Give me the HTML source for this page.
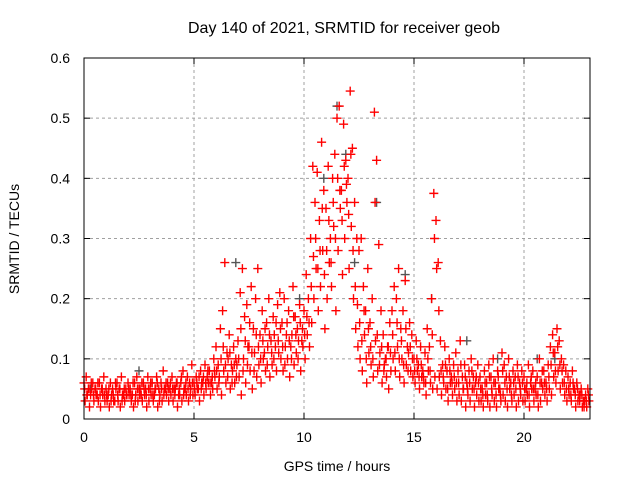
<!DOCTYPE html>
<html><head><meta charset="utf-8"><style>
html,body{margin:0;padding:0;background:#fff;}
svg{display:block;font-family:"Liberation Sans",sans-serif;}
</style></head><body>
<svg id="chart" width="640" height="480">
<text x="344" y="33" text-anchor="middle" font-size="16" textLength="312" lengthAdjust="spacingAndGlyphs">Day 140 of 2021, SRMTID for receiver geob</text>
<text transform="translate(19,239) rotate(-90)" text-anchor="middle" font-size="14">SRMTID / TECUs</text>
<text x="337" y="471" text-anchor="middle" font-size="14">GPS time / hours</text>
<g id="grid"></g><g id="ticks"></g><g id="marks"></g>
<rect x="84" y="58" width="506" height="361" fill="none" stroke="#000" stroke-width="1"/>
</svg>
<script>
const hours=[0,0.1,0.2,0.3,0.4,0.5,0.6,0.7,0.8,0.9,1,1.1,1.2,1.3,1.4,1.5,1.6,1.7,1.8,1.9,2,2.1,2.2,2.3,2.4,2.5,2.6,2.7,2.8,2.9,3,3.1,3.2,3.3,3.4,3.5,3.6,3.7,3.8,3.9,4,4.1,4.2,4.3,4.4,4.5,4.6,4.7,4.8,4.9,5,5.1,5.2,5.3,5.4,5.5,5.6,5.7,5.8,5.9,6,6.1,6.2,6.3,6.4,6.5,6.6,6.7,6.8,6.9,7,7.1,7.2,7.3,7.4,7.5,7.6,7.7,7.8,7.9,8,8.1,8.2,8.3,8.4,8.5,8.6,8.7,8.8,8.9,9,9.1,9.2,9.3,9.4,9.5,9.6,9.7,9.8,9.9,10,10.1,10.2,10.3,10.4,10.5,10.6,10.7,10.8,10.9,11,11.1,11.2,11.3,11.4,11.5,11.6,11.7,11.8,11.9,12,12.1,12.2,12.3,12.4,12.5,12.6,12.7,12.8,12.9,13,13.1,13.2,13.3,13.4,13.5,13.6,13.7,13.8,13.9,14,14.1,14.2,14.3,14.4,14.5,14.6,14.7,14.8,14.9,15,15.1,15.2,15.3,15.4,15.5,15.6,15.7,15.8,15.9,16,16.1,16.2,16.3,16.4,16.5,16.6,16.7,16.8,16.9,17,17.1,17.2,17.3,17.4,17.5,17.6,17.7,17.8,17.9,18,18.1,18.2,18.3,18.4,18.5,18.6,18.7,18.8,18.9,19,19.1,19.2,19.3,19.4,19.5,19.6,19.7,19.8,19.9,20,20.1,20.2,20.3,20.4,20.5,20.6,20.7,20.8,20.9,21,21.1,21.2,21.3,21.4,21.5,21.6,21.7,21.8,21.9,22,22.1,22.2,22.3,22.4,22.5,22.6,22.7,22.8,22.9];
const seriesA=[.06,.07,.05,.04,.06,.05,.04,.06,.05,.07,
.05,.04,.06,.05,.03,.06,.05,.07,.04,.05,
.06,.05,.04,.06,.07,.05,.04,.06,.05,.07,
.05,.06,.04,.07,.05,.06,.08,.05,.06,.05,
.07,.05,.06,.04,.06,.08,.05,.07,.06,.09,
.06,.07,.05,.08,.06,.09,.07,.08,.06,.10,
.12,.09,.15,.18,.26,.11,.14,.09,.12,.10,
.13,.21,.25,.17,.19,.12,.22,.15,.20,.25,
.14,.18,.11,.16,.20,.13,.17,.12,.19,.21,
.16,.20,.14,.18,.12,.22,.17,.15,.19,.13,
.18,.24,.20,.30,.42,.36,.41,.33,.46,.38,
.35,.42,.30,.40,.44,.50,.52,.38,.49,.43,
.40,.545,.45,.36,.30,.28,.30,.22,.18,.25,
.16,.20,.51,.43,.29,.18,.14,.10,.12,.16,
.18,.22,.20,.25,.15,.18,.23,.12,.16,.14,
.10,.13,.09,.12,.08,.11,.15,.12,.20,.375,
.33,.26,.13,.09,.12,.08,.10,.07,.09,.11,
.08,.13,.07,.09,.06,.08,.10,.07,.06,.09,
.07,.05,.08,.06,.09,.07,.10,.06,.08,.05,
.11,.09,.07,.10,.06,.08,.07,.09,.06,.08,
.07,.05,.09,.06,.08,.05,.07,.10,.06,.08,
.06,.09,.12,.14,.11,.15,.13,.10,.09,.08,
.07,.06,.08,.05,.06,.04,.05,.03,.04,.05];
const seriesB=[.03,.04,.02,.05,.03,.04,.03,.02,.04,.03,
.03,.02,.04,.03,.05,.03,.02,.04,.03,.04,
.04,.03,.02,.04,.03,.05,.03,.04,.02,.03,
.04,.03,.05,.02,.04,.03,.05,.04,.03,.04,
.03,.05,.02,.04,.03,.05,.04,.03,.05,.04,
.04,.05,.03,.06,.04,.05,.06,.04,.05,.07,
.05,.07,.04,.08,.06,.10,.05,.08,.06,.09,
.07,.04,.10,.06,.12,.08,.05,.11,.07,.09,
.06,.10,.08,.12,.07,.09,.14,.08,.11,.10,
.08,.12,.10,.07,.14,.09,.11,.13,.08,.12,
.10,.14,.12,.16,.20,.25,.18,.22,.28,.15,
.20,.26,.22,.32,.18,.28,.35,.24,.30,.36,
.25,.32,.20,.15,.12,.10,.08,.14,.06,.11,
.09,.07,.13,.08,.11,.06,.09,.07,.05,.08,
.10,.08,.12,.07,.10,.06,.09,.11,.08,.07,
.06,.08,.05,.07,.06,.04,.08,.06,.05,.07,
.05,.07,.04,.06,.05,.03,.06,.04,.05,.03,
.04,.03,.05,.02,.04,.03,.05,.02,.04,.03,
.03,.02,.04,.03,.02,.04,.03,.02,.05,.03,
.04,.03,.02,.05,.03,.04,.02,.03,.04,.03,
.03,.04,.02,.05,.03,.04,.02,.03,.05,.04,
.03,.05,.04,.07,.06,.08,.05,.06,.04,.03,
.04,.03,.05,.02,.03,.04,.02,.03,.02,.03];
const seriesC=[.05,.04,.05,.06,.04,.05,.06,.04,.05,.04,
.04,.05,.03,.04,.06,.04,.05,.03,.05,.04,
.05,.04,.06,.03,.05,.04,.06,.05,.04,.05,
.06,.04,.05,.06,.03,.05,.04,.06,.05,.06,
.05,.04,.06,.05,.07,.04,.06,.05,.04,.06,
.05,.06,.07,.05,.07,.06,.08,.06,.07,.08,
.08,.06,.10,.12,.09,.07,.11,.06,.09,.07,
.10,.15,.08,.13,.09,.16,.11,.08,.14,.12,
.10,.13,.15,.09,.14,.11,.10,.16,.13,.15,
.12,.09,.16,.13,.10,.17,.14,.10,.16,.15,
.14,.17,.16,.22,.27,.30,.25,.28,.35,.24,
.28,.33,.26,.36,.30,.40,.38,.33,.42,.39,
.34,.44,.28,.22,.19,.16,.13,.18,.10,.15,
.12,.10,.36,.14,.09,.12,.08,.10,.12,.11,
.14,.11,.16,.10,.13,.09,.15,.08,.12,.10,
.08,.10,.07,.09,.07,.06,.10,.08,.14,.30,
.25,.18,.08,.07,.09,.05,.08,.06,.07,.06,
.06,.09,.05,.07,.05,.06,.08,.05,.07,.06,
.05,.04,.06,.04,.07,.05,.06,.04,.07,.04,
.08,.06,.05,.07,.04,.06,.05,.07,.05,.06,
.05,.06,.04,.07,.05,.06,.04,.06,.08,.06,
.05,.07,.09,.11,.08,.12,.09,.08,.06,.05,
.05,.04,.06,.04,.05,.03,.04,.02,.03,.04];
const greyHours=[0.3,2.5,6.9,9.8,10.9,11.5,11.9,12.3,13.3,14.6,15.8,17.4,18.8,20.6,21.4];
const greyValues=[0.05,0.08,0.26,0.2,0.4,0.52,0.44,0.26,0.36,0.24,0.2,0.13,0.1,0.1,0.1];
const xTicks=[0,5,10,15,20];
const yTicks=[0,0.1,0.2,0.3,0.4,0.5,0.6];
const yTickLabels=["0","0.1","0.2","0.3","0.4","0.5","0.6"];

const X0=84,X1=590,Y0=419,Y1=58,XMAX=23,YMAX=0.6;
const xs=v=>X0+(X1-X0)*v/XMAX;
const ys=v=>Y0-(Y0-Y1)*v/YMAX;
const NS='http://www.w3.org/2000/svg';
const grid=document.getElementById('grid'),ticks=document.getElementById('ticks'),marks=document.getElementById('marks');
function mk(tag,parent,attrs){const e=document.createElementNS(NS,tag);for(const k in attrs)e.setAttribute(k,attrs[k]);parent.appendChild(e);return e;}
xTicks.forEach(t=>{
  const x=xs(t);
  if(t>0){const g=mk('line',grid,{x1:x,x2:x,y1:Y1,y2:Y0,stroke:'#a0a0a0','stroke-dasharray':'3,3','stroke-width':1});
  
  }
  const tk=mk('line',ticks,{x1:x,x2:x,y1:Y0,y2:Y0-6,stroke:'#000'});
  
  
  const tk2=mk('line',ticks,{x1:x,x2:x,y1:Y1,y2:Y1+6,stroke:'#000'});
  
  
  const l=mk('text',ticks,{x:x,y:Y0+23,'text-anchor':'middle','font-size':14});
  l.textContent=String(t);
  
  
});
yTicks.forEach((t,i)=>{
  const y=ys(t);
  if(t>0&&t<YMAX){const g=mk('line',grid,{x1:X0,x2:X1,y1:y,y2:y,stroke:'#a0a0a0','stroke-dasharray':'3,3','stroke-width':1});
  
  }
  const tk=mk('line',ticks,{x1:X0,x2:X0+6,y1:y,y2:y,stroke:'#000'});
  
  
  const tk2=mk('line',ticks,{x1:X1,x2:X1-6,y1:y,y2:y,stroke:'#000'});
  
  
  const l=mk('text',ticks,{x:X0-14,y:y+5,'text-anchor':'end','font-size':14});
  l.textContent=yTickLabels[i];
  
  
});
function plus(h,v,color,name){
  const x=xs(h),y=ys(v);
  const p=mk('path',marks,{d:`M${x-4.5},${y}H${x+4.5}M${x},${y-4.5}V${y+4.5}`,stroke:color,'stroke-width':1.4,fill:'none'});
  
  
}
greyHours.forEach((h,i)=>plus(h,greyValues[i],'#555','grey-point'));
hours.forEach((h,i)=>{
  plus(h,seriesA[i],'#ff0000','point-a');
  plus(h+0.05,seriesB[i],'#ff0000','point-b');
  plus(h+0.03,seriesC[i],'#ff0000','point-c');
});
</script>
</body></html>
